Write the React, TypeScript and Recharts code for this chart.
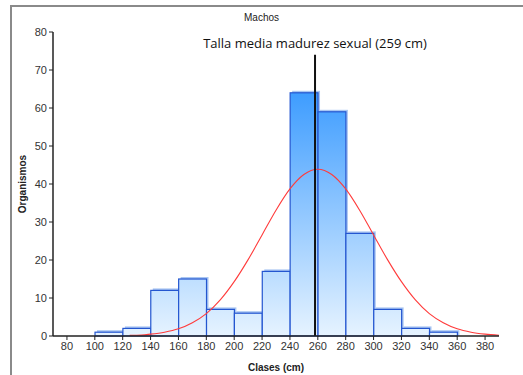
import React from 'react';
import {
  ComposedChart,
  Bar,
  Line,
  XAxis,
  YAxis,
  ReferenceLine,
  Label,
} from 'recharts';

// class midpoints (cm) and counts
const classMid = [110, 130, 150, 170, 190, 210, 230, 250, 270, 290, 310, 330, 350];
const counts = [1, 2, 12, 15, 7, 6, 17, 64, 59, 27, 7, 2, 1];

// fitted normal curve
const curveX = [125, 130, 140, 150, 160, 170, 180, 190, 200, 210, 220, 230, 240, 250, 260, 270, 280, 290, 300, 310, 320, 330, 340, 350, 360, 370, 380, 390];
const curveY = [0.2, 0.2, 0.5, 1.0, 1.9, 3.5, 5.9, 9.5, 14.3, 20.1, 26.6, 33.1, 38.7, 42.5, 43.9, 42.5, 38.7, 33.1, 26.6, 20.1, 14.3, 9.5, 5.9, 3.5, 1.9, 1.0, 0.5, 0.2];

const xTicks = [80, 100, 120, 140, 160, 180, 200, 220, 240, 260, 280, 300, 320, 340, 360, 380];
const yTicks = [0, 10, 20, 30, 40, 50, 60, 70, 80];

const meanSize = 258;
const meanLabel = 'Talla media madurez sexual (259 cm)';

const W = 523;
const H = 375;
const M = { top: 32, right: 24, bottom: 19, left: 0 };
const Y_AXIS_W = 53;
const X_AXIS_H = 20;
const plotW = W - M.left - M.right - Y_AXIS_W;
const barPx = (plotW / 320) * 20;

const data = [
  ...classMid.map((x, i) => ({ x, count: counts[i] })),
  ...curveX.map((x, i) => ({ x, curve: curveY[i] })),
].sort((a, b) => a.x - b.x);

const font = '"Liberation Sans", Arial, sans-serif';

// bar shape: keep the library's centre and height, widen to a full class interval
const ShadowBar = (props: any) => {
  const { x, y, width, height } = props;
  if (!height || height <= 0) return null;
  const cx = x + width / 2;
  const left = cx - barPx / 2;
  return (
    <g>
      <rect x={left + 2} y={y - 2} width={barPx} height={height + 2} fill="#a9c6f2" />
      <rect x={left} y={y} width={barPx} height={height} fill="url(#barGrad)" stroke="#2456d0" strokeWidth={1.2} />
    </g>
  );
};

export default function App() {
  return (
    <div style={{ position: 'absolute', left: 0, top: 0, width: W, height: H, background: '#fff', fontFamily: font }}>
      <div style={{ position: 'absolute', left: 10, top: 5, width: W, height: H, borderTop: '2px solid #8a8a8a', borderLeft: '2px solid #8a8a8a' }} />
      <div style={{ position: 'absolute', left: 0, top: 12, width: 523, textAlign: 'center', fontSize: 10, color: '#222' }}>
        Machos
      </div>
      <div style={{ position: 'absolute', left: 0, top: 0 }}>
        <ComposedChart width={W} height={H} data={data} margin={M}>
          <defs>
            <linearGradient id="barGrad" gradientUnits="userSpaceOnUse" x1="0" y1={M.top} x2="0" y2={H - M.bottom - X_AXIS_H}>
              <stop offset="0%" stopColor="#1487ff" />
              <stop offset="100%" stopColor="#e6f3ff" />
            </linearGradient>
          </defs>
          <XAxis
            xAxisId="b"
            dataKey="x"
            type="number"
            domain={[70, 390]}
            ticks={xTicks}
            interval={0}
            height={X_AXIS_H}
            allowDataOverflow
            axisLine={{ stroke: '#222', strokeWidth: 1.5 }}
            tickLine={{ stroke: '#222' }}
            tickSize={4}
            tick={{ fontSize: 11, fill: '#333', fontFamily: font }}
          >
            <Label value="Clases (cm)" position="bottom" offset={8} style={{ fontSize: 10, fontWeight: 'bold', fill: '#222', fontFamily: font }} />
          </XAxis>
          <XAxis xAxisId="t" orientation="top" type="number" domain={[70, 390]} height={0} tick={false} tickLine={false} axisLine={{ stroke: '#666', strokeWidth: 1.5 }} />
          <YAxis
            yAxisId="l"
            type="number"
            domain={[0, 80]}
            ticks={yTicks}
            width={Y_AXIS_W}
            axisLine={{ stroke: '#222', strokeWidth: 1.5 }}
            tickLine={{ stroke: '#222' }}
            tickSize={4}
            tick={{ fontSize: 11, fill: '#333', fontFamily: font }}
          >
            <Label value="Organismos" angle={-90} position="insideLeft" offset={22} style={{ fontSize: 10, fontWeight: 'bold', fill: '#222', fontFamily: font, textAnchor: 'middle' }} />
          </YAxis>
          <YAxis yAxisId="r" orientation="right" type="number" domain={[0, 80]} width={0} tick={false} tickLine={false} axisLine={{ stroke: '#111', strokeWidth: 1.5 }} />
          <Bar
            xAxisId="b"
            yAxisId="l"
            dataKey="count"
            shape={ShadowBar}
            isAnimationActive={false}
          />
          <Line
            xAxisId="b"
            yAxisId="l"
            dataKey="curve"
            type="monotone"
            stroke="#ff3b3b"
            strokeWidth={1.1}
            dot={false}
            connectNulls
            isAnimationActive={false}
          />
          <ReferenceLine
            xAxisId="b"
            yAxisId="l"
            segment={[{ x: meanSize, y: 0 }, { x: meanSize, y: 74 }]}
            stroke="#111"
            strokeWidth={2}
          />
          <ReferenceLine
            xAxisId="b"
            yAxisId="l"
            segment={[{ x: meanSize, y: 77 }, { x: meanSize, y: 77 }]}
            stroke="none"
          >
            <Label value={meanLabel} position="center" style={{ fontSize: 13, fill: '#111', fontFamily: '"Open Sans", sans-serif' }} />
          </ReferenceLine>
        </ComposedChart>
      </div>
    </div>
  );
}
